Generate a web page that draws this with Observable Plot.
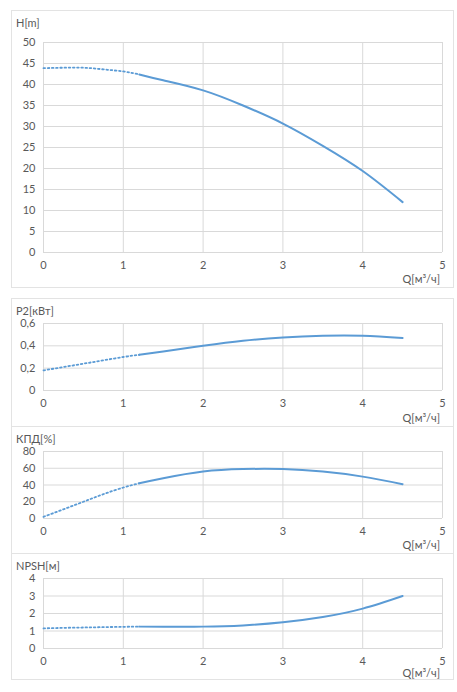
<!DOCTYPE html>
<html><head><meta charset="utf-8">
<script src="https://cdn.jsdelivr.net/npm/d3@7"></script>
<script src="https://cdn.jsdelivr.net/npm/@observablehq/plot@0.6"></script>
<style>
body{margin:0;background:#fff;font-family:Lato,"Open Sans",sans-serif;}
#root{position:relative;width:457px;height:692px;overflow:hidden;}
.box{position:absolute;border:1px solid #e3e3e3;box-sizing:border-box;}
.pl{position:absolute;}
.t{position:absolute;font-size:11px;color:#595959;white-space:nowrap;line-height:1;}
</style></head>
<body><div id="root"></div>
<script>
// Flow rate Q [m3/h]
const q = [0, 0.25, 0.5, 0.75, 1, 1.2, 1.5, 2, 2.5, 3, 3.5, 4, 4.5];
// Head H [m]
const headH = [43.9, 44.0, 44.0, 43.6, 43.1, 42.4, 41.0, 38.6, 35.0, 30.7, 25.4, 19.4, 12.0];
// Power P2 [kW]
const powerP2 = [0.18, 0.21, 0.24, 0.27, 0.30, 0.32, 0.35, 0.40, 0.445, 0.475, 0.49, 0.49, 0.47];
// Efficiency [%]
const effKPD = [2, 11, 20, 29, 37, 42, 48, 56, 59, 59, 56, 50, 41];
// NPSH [m]
const npsh = [1.15, 1.18, 1.2, 1.22, 1.24, 1.25, 1.24, 1.25, 1.32, 1.5, 1.8, 2.28, 3.0];

const xTicks = [0, 1, 2, 3, 4, 5];
const qSplit = 1.2;
const xLabel = "Q[м³/ч]";

const panels = [
  {title: "H[m]", values: headH, domain: [0, 50], ticks: [0,5,10,15,20,25,30,35,40,45,50], fmt: d => String(d),
   top: 10, h: 277, mt: 32, mb: 35, qdy: 0},
  {title: "P2[кВт]", values: powerP2, domain: [0, 0.6], ticks: [0,0.2,0.4,0.6], fmt: d => String(d).replace(".", ","),
   top: 298, h: 128, mt: 25, mb: 36, qdy: 0},
  {title: "КПД[%]", values: effKPD, domain: [0, 80], ticks: [0,20,40,60,80], fmt: d => String(d),
   top: 426, h: 127, mt: 25, mb: 35, qdy: 0},
  {title: "NPSH[м]", values: npsh, domain: [0, 4], ticks: [0,1,2,3,4], fmt: d => String(d),
   top: 553, h: 126, mt: 25, mb: 31, qdy: 2}
];

const root = document.getElementById("root");
const color = "#5b9bd5";
const grid = "#d9d9d9";
const txt = "#595959";

for (const p of panels) {
  const data = q.map((x, i) => ({x, y: p.values[i]}));
  const dotted = data.filter(d => d.x <= qSplit);
  const solid = data.filter(d => d.x >= qSplit);
  const box = document.createElement("div");
  box.className = "box";
  Object.assign(box.style, {left: "11px", top: p.top + "px", width: "443px", height: (p.h + 1) + "px"});
  root.appendChild(box);

  const chart = Plot.plot({
    width: 442, height: p.h,
    marginLeft: 32, marginRight: 11, marginTop: p.mt, marginBottom: p.mb,
    style: {fontFamily: "Lato, 'Open Sans', sans-serif", fontSize: "11px", color: txt, background: "transparent", overflow: "visible"},
    x: {domain: [0, 5], ticks: xTicks},
    y: {domain: p.domain, ticks: p.ticks},
    marks: [
      Plot.gridX(xTicks, {stroke: grid, strokeOpacity: 1, strokeWidth: 1}),
      Plot.gridY(p.ticks, {stroke: grid, strokeOpacity: 1, strokeWidth: 1}),
      Plot.axisX(xTicks, {tickSize: 0, tickPadding: 9, label: null, fill: txt}),
      Plot.axisY(p.ticks, {tickSize: 0, tickPadding: 8, label: null, tickFormat: p.fmt, fill: txt}),
      Plot.line(dotted, {x: "x", y: "y", stroke: color, strokeWidth: 1.8, curve: "natural", strokeDasharray: "1.6,2.6"}),
      Plot.line(solid, {x: "x", y: "y", stroke: color, strokeWidth: 2, curve: "natural"})
    ]
  });
  chart.classList.add("pl");
  chart.style.left = "11px";
  chart.style.top = p.top + "px";
  root.appendChild(chart);

  const t = document.createElement("div");
  t.className = "t";
  t.textContent = p.title;
  Object.assign(t.style, {left: "16px", top: (p.top + 7) + "px"});
  root.appendChild(t);

  const ql = document.createElement("div");
  ql.className = "t";
  ql.textContent = xLabel;
  Object.assign(ql.style, {right: (457 - 440) + "px", top: (p.top + p.h - 14 + p.qdy) + "px"});
  root.appendChild(ql);
}
</script></body></html>
